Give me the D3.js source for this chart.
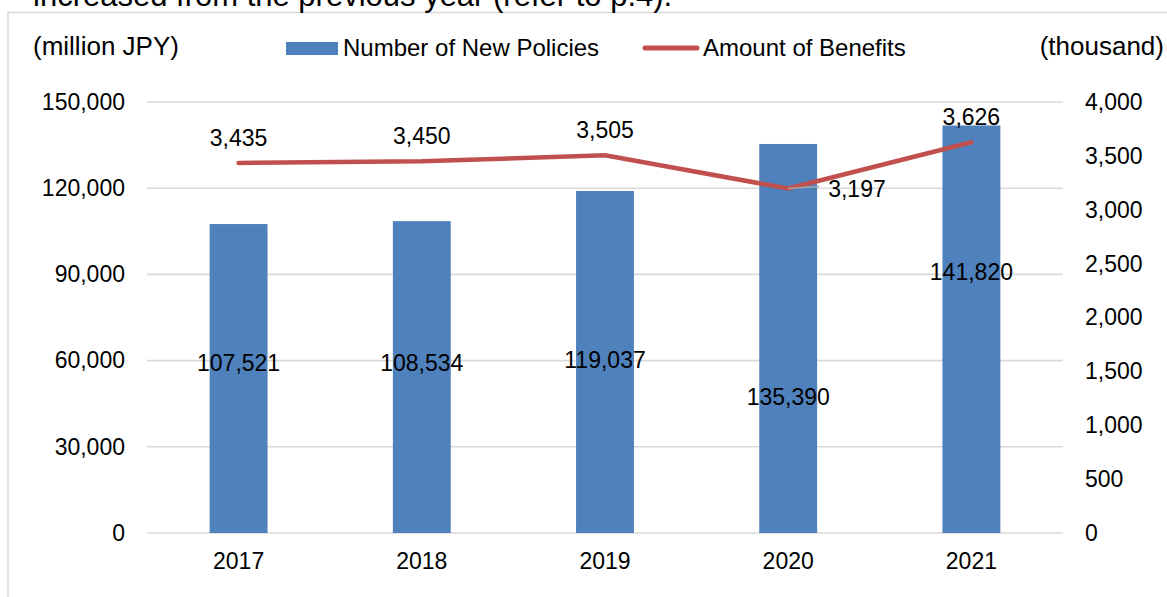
<!DOCTYPE html>
<html>
<head>
<meta charset="utf-8">
<script src="https://cdn.jsdelivr.net/npm/d3@7"></script>
<style>
  html, body { margin: 0; padding: 0; background: #fff; }
  svg { display: block; font-family: "Liberation Sans", Arial, sans-serif; }
</style>
</head>
<body>
<svg id="chart" width="1167" height="597"></svg>
<script>
// Data
const years = ["2017", "2018", "2019", "2020", "2021"];
const newPolicies = [107521, 108534, 119037, 135390, 141820];   // million JPY (left axis)
const benefits = [3435, 3450, 3505, 3197, 3626];                 // thousand (right axis)
const leftTicks = [0, 30000, 60000, 90000, 120000, 150000];
const rightTicks = [0, 500, 1000, 1500, 2000, 2500, 3000, 3500, 4000];
const seriesNames = ["Number of New Policies", "Amount of Benefits"];

// Layout
const W = 1167, H = 597;
const plot = { left: 147, right: 1063, top: 102, bottom: 533 };
const BLUE = "#4F81BD", RED = "#C0504D", GRID = "#D9D9D9";
const FONT = 23, LEGEND_FONT = 24, UNIT_FONT = 26, CAPTION_FONT = 31;

// Vertical placement of the bar value labels (in left-axis units)
const barLabelLevel = [59200, 59200, 60200, 47300, 91000];
// Placement of the line value labels
const lineLabelSide = ["above", "above", "above", "right", "above"];

const svg = d3.select("#chart");

const x = d3.scaleBand().domain(years).range([plot.left, plot.right])
  .paddingInner(0.684).paddingOuter(0.342);
const yL = d3.scaleLinear().domain([0, 150000]).range([plot.bottom, plot.top]);
const yR = d3.scaleLinear().domain([0, 4000]).range([plot.bottom, plot.top]);
const fmt = d3.format(",");

// Frame lines of the surrounding area
svg.append("line").attr("x1", 8).attr("x2", W).attr("y1", 12.5).attr("y2", 12.5)
  .attr("stroke", GRID).attr("stroke-width", 1.5);
svg.append("line").attr("x1", 8).attr("x2", 8).attr("y1", 12).attr("y2", H)
  .attr("stroke", GRID).attr("stroke-width", 1.5);

// Caption line above (its upper part runs past the top edge)
svg.append("text").attr("x", 33).attr("y", 6).attr("font-size", CAPTION_FONT).attr("fill", "#000")
  .text("increased from the previous year (refer to p.4).");

// Gridlines
svg.append("g").selectAll("line").data(leftTicks).join("line")
  .attr("x1", plot.left).attr("x2", plot.right)
  .attr("y1", d => yL(d)).attr("y2", d => yL(d))
  .attr("stroke", GRID).attr("stroke-width", 1.6);

// Left axis
const axL = svg.append("g").attr("transform", `translate(${plot.left},0)`)
  .call(d3.axisLeft(yL).tickValues(leftTicks).tickFormat(fmt).tickSize(0).tickPadding(22));
// Right axis
const axR = svg.append("g").attr("transform", `translate(${plot.right},0)`)
  .call(d3.axisRight(yR).tickValues(rightTicks).tickFormat(fmt).tickSize(0).tickPadding(22));
// Bottom axis
const axB = svg.append("g").attr("transform", `translate(0,${plot.bottom})`)
  .call(d3.axisBottom(x).tickSize(0).tickPadding(20));

[axL, axR, axB].forEach(g => {
  g.select(".domain").remove();
  g.selectAll("text").attr("font-size", FONT).attr("fill", "#000")
    .attr("font-family", "Liberation Sans, Arial, sans-serif");
});

// Bars
svg.append("g").selectAll("rect").data(years).join("rect")
  .attr("x", d => x(d))
  .attr("width", x.bandwidth())
  .attr("y", (d, i) => yL(newPolicies[i]))
  .attr("height", (d, i) => yL(0) - yL(newPolicies[i]))
  .attr("fill", BLUE);

// Line
const cx = d => x(d) + x.bandwidth() / 2;
const lineGen = d3.line().x((d, i) => cx(years[i])).y(d => yR(d));
svg.append("path").datum(benefits)
  .attr("d", lineGen)
  .attr("fill", "none").attr("stroke", RED).attr("stroke-width", 4.5)
  .attr("stroke-linecap", "round").attr("stroke-linejoin", "round");

// Bar value labels
svg.append("g").selectAll("text").data(newPolicies).join("text")
  .attr("x", (d, i) => cx(years[i]))
  .attr("y", (d, i) => yL(barLabelLevel[i]))
  .attr("dy", "0.35em")
  .attr("text-anchor", "middle").attr("font-size", FONT).attr("fill", "#000")
  .text(d => fmt(d));

// Line value labels
const lbl = svg.append("g");
benefits.forEach((v, i) => {
  const px = cx(years[i]), py = yR(v);
  if (lineLabelSide[i] === "right") {
    lbl.append("line").attr("x1", px).attr("y1", py).attr("x2", px + 31).attr("y2", py - 2)
      .attr("stroke", "#A6A6A6").attr("stroke-width", 1.5);
    lbl.append("text").attr("x", px + 40).attr("y", py).attr("dy", "0.35em")
      .attr("text-anchor", "start").attr("font-size", FONT).attr("fill", "#000")
      .text(fmt(v));
  } else {
    lbl.append("text").attr("x", px).attr("y", py - 17)
      .attr("text-anchor", "middle").attr("font-size", FONT).attr("fill", "#000")
      .text(fmt(v));
  }
});

// Axis unit titles
svg.append("text").attr("x", 33).attr("y", 46).attr("dy", "0.35em")
  .attr("font-size", UNIT_FONT).attr("fill", "#000").text("(million JPY)");
svg.append("text").attr("x", 1164).attr("y", 46).attr("dy", "0.35em")
  .attr("text-anchor", "end").attr("font-size", UNIT_FONT).attr("fill", "#000").text("(thousand)");

// Legend
const leg = svg.append("g");
leg.append("rect").attr("x", 286).attr("y", 42).attr("width", 52).attr("height", 13).attr("fill", BLUE);
leg.append("text").attr("x", 343).attr("y", 48).attr("dy", "0.35em")
  .attr("font-size", LEGEND_FONT).attr("fill", "#000").text(seriesNames[0]);
leg.append("line").attr("x1", 645).attr("x2", 697).attr("y1", 48).attr("y2", 48)
  .attr("stroke", RED).attr("stroke-width", 5).attr("stroke-linecap", "round");
leg.append("text").attr("x", 703).attr("y", 48).attr("dy", "0.35em")
  .attr("font-size", LEGEND_FONT).attr("fill", "#000").text(seriesNames[1]);
</script>
</body>
</html>
